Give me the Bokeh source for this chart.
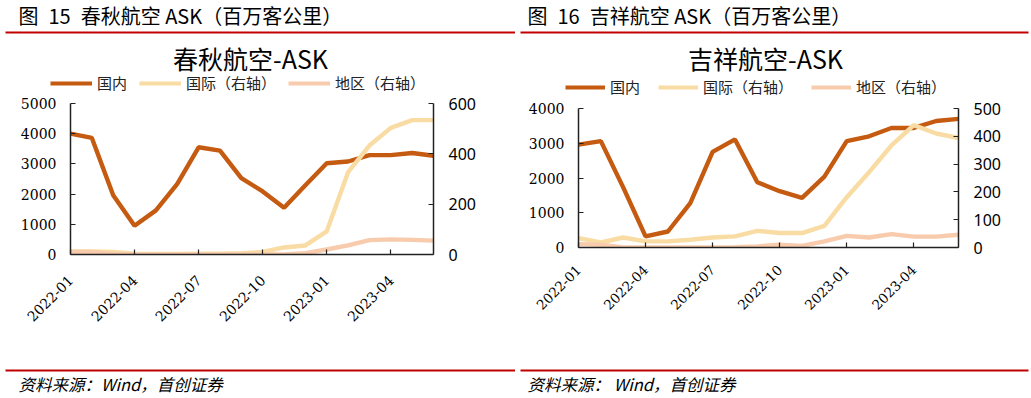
from bokeh.plotting import figure
from bokeh.models import (Range1d, LinearAxis, FixedTicker, Legend, LegendItem,
                          Label, BoxAnnotation)
from bokeh.layouts import row, column
from bokeh.embed import file_html
from bokeh.resources import INLINE

months = ["2022-01", "2022-02", "2022-03", "2022-04", "2022-05", "2022-06",
          "2022-07", "2022-08", "2022-09", "2022-10", "2022-11", "2022-12",
          "2023-01", "2023-02", "2023-03", "2023-04", "2023-05", "2023-06"]
tick_months = ["2022-01", "2022-04", "2022-07", "2022-10", "2023-01", "2023-04"]

# 春秋航空 ASK
cq_dom = [4000, 3860, 1960, 950, 1460, 2340, 3550, 3440, 2530, 2090, 1550, 2290,
          3020, 3080, 3290, 3290, 3360, 3270]
cq_int = [12, 12, 10, 3, 2, 2, 3, 3, 5, 10, 28, 36, 92, 327, 433, 503, 534, 534]
cq_reg = [10, 10, 2, 0, 0, 0, 0, 0, 0, 0, 0, 5, 20, 36, 57, 60, 58, 55]

# 吉祥航空 ASK
jx_dom = [2960, 3060, 1730, 320, 460, 1280, 2750, 3110, 1880, 1620, 1430, 2040,
          3060, 3200, 3440, 3440, 3640, 3700]
jx_int = [34, 18, 36, 22, 22, 28, 36, 40, 60, 52, 52, 78, 181, 271, 367, 440, 410, 394]
jx_reg = [12, 10, 0, 0, 0, 0, 0, 1, 4, 10, 6, 22, 42, 36, 48, 39, 39, 46]

series_names = ["国内", "国际（右轴）", "地区（右轴）"]
colors = ["#C55A11", "#F9DCA4", "#F8CBAD"]

CJK = "Noto Sans CJK SC"
SERIF = "DejaVu Serif"
SANS = "Noto Sans"
RED = "#C00000"

BOTTOM_Y = 366   # page y where the footer strip starts
FOOT_H = 32


def blank_fig(width, height):
    p = figure(width=width, height=height, output_backend="svg",
               toolbar_location=None, title=None,
               x_range=Range1d(0, width), y_range=Range1d(0, height),
               min_border=0, min_border_left=0, min_border_right=0,
               min_border_top=0, min_border_bottom=0)
    p.xaxis.visible = False
    p.yaxis.visible = False
    p.grid.visible = False
    p.outline_line_color = None
    p.background_fill_color = "white"
    p.border_fill_color = "white"
    return p


def top_fig(width, top_h, text_x, fig_no, name, rule_right, legend_spacing, glyph_w):
    p = blank_fig(width, top_h)
    # header text and red rule (y measured upward from the bottom of this strip)
    p.add_layout(Label(x=text_x, y=top_h - 15, text="图\u2002" + fig_no + "\u2002" + name +
                       " ASK（百万客公里）", text_font=CJK, text_font_size="20px",
                       text_align="left", text_baseline="middle", text_color="black"))
    p.add_layout(BoxAnnotation(left=5, right=rule_right, top=top_h - 31,
                               bottom=top_h - 33, fill_color=RED, fill_alpha=1,
                               line_alpha=0))
    # chart title
    p.add_layout(Label(x=250, y=top_h - 57, text=name + "-ASK",
                       text_font=CJK, text_font_size="25px", text_align="center",
                       text_baseline="middle", text_color="black"))
    # legend: sample renderers (placed off-screen) carry the series styles
    rs = [p.line([-50, -40], [-50, -40], line_color=c, line_width=4.2) for c in colors]
    legend = Legend(items=[LegendItem(label=n, renderers=[r])
                           for n, r in zip(series_names, rs)],
                    orientation="horizontal", location=(50, 0),
                    padding=0, margin=0, spacing=legend_spacing,
                    glyph_width=glyph_w, glyph_height=14, label_height=14,
                    label_standoff=5, label_text_font=CJK,
                    label_text_font_size="15px", label_text_color="#222222",
                    background_fill_alpha=0, border_line_color=None)
    p.add_layout(legend)
    return p


def foot_fig(width, text_x, text, rule_right):
    p = blank_fig(width, FOOT_H)
    p.add_layout(BoxAnnotation(left=5, right=rule_right, top=FOOT_H - 3,
                               bottom=FOOT_H - 5, fill_color=RED, fill_alpha=1,
                               line_alpha=0))
    p.add_layout(Label(x=text_x, y=FOOT_H - 17, text=text, text_font=CJK,
                       text_font_size="16.5px", text_font_style="italic",
                       text_align="left", text_baseline="middle", text_color="black"))
    return p


def chart_fig(width, top_h, frame, dom, intl, reg, left_max, left_ticks,
              right_max, right_ticks, xlab_size, xstand):
    fl, fr, ft, fb = frame  # frame edges in panel/page pixels
    p = figure(width=width, height=BOTTOM_Y - top_h, output_backend="svg",
               toolbar_location=None, title=None,
               min_border_left=fl, min_border_right=width - fr,
               min_border_top=ft - top_h, min_border_bottom=BOTTOM_Y - fb,
               x_range=Range1d(0, len(months) - 1), y_range=Range1d(0, left_max))
    p.outline_line_color = None
    p.grid.visible = False
    p.background_fill_color = "white"
    p.border_fill_color = "white"

    p.extra_y_ranges = {"right": Range1d(0, right_max)}
    raxis = LinearAxis(y_range_name="right")
    p.add_layout(raxis, "right")

    x = list(range(len(months)))
    p.line(x, dom, line_color=colors[0], line_width=4.4)
    p.line(x, intl, line_color=colors[1], line_width=4.4, y_range_name="right")
    p.line(x, reg, line_color=colors[2], line_width=4.4, y_range_name="right")

    xa = p.xaxis[0]
    xa.ticker = FixedTicker(ticks=[months.index(m) for m in tick_months])
    xa.major_label_overrides = {months.index(m): m for m in tick_months}
    xa.major_label_orientation = 0.785398
    xa.major_label_text_font = SERIF
    xa.major_label_text_font_size = xlab_size
    xa.major_label_text_color = "black"
    xa.major_label_standoff = xstand

    ya = p.yaxis[0]
    ya.ticker = FixedTicker(ticks=left_ticks)
    ya.major_label_text_font = SERIF
    ya.major_label_text_font_size = "14px"
    ya.major_label_text_color = "black"
    ya.major_label_standoff = 14

    raxis.ticker = FixedTicker(ticks=right_ticks)
    raxis.major_label_text_font = SANS
    raxis.major_label_text_font_size = "16px"
    raxis.major_label_text_color = "black"
    raxis.major_label_standoff = 15

    for ax in (xa, ya, raxis):
        ax.major_tick_in = 5
        ax.major_tick_out = 0
        ax.minor_tick_line_color = None
        ax.axis_line_color = "#222222"
        ax.axis_line_width = 1.5
        ax.major_tick_line_color = "#222222"
        ax.major_tick_line_width = 1.2
    return p


# left panel frame: x 70-433, y 103-254 ; right panel frame: x 63-443, y 108-247
L_TOP, R_TOP = 93, 97
p1 = chart_fig(515, L_TOP, (70, 433, 103, 254), cq_dom, cq_int, cq_reg,
               5000, [0, 1000, 2000, 3000, 4000, 5000], 600, [0, 200, 400, 600],
               "14px", 23)
p2 = chart_fig(516, R_TOP, (63, 443, 108, 247), jx_dom, jx_int, jx_reg,
               4000, [0, 1000, 2000, 3000, 4000], 500, [0, 100, 200, 300, 400, 500],
               "13.5px", 20)

left = column(row(top_fig(515, L_TOP, 18, "15", "春秋航空", 515, 12, 42)), row(p1),
              row(foot_fig(515, 18, "资料来源：Wind，首创证券", 515)), spacing=0)
right = column(row(top_fig(516, R_TOP, 12, "16", "吉祥航空", 513, 18, 40)), row(p2),
               row(foot_fig(516, 12, "资料来源： Wind，首创证券", 513)), spacing=0)
layout = row(left, right, spacing=0)
open("out.html", "w").write(file_html(layout, INLINE))
